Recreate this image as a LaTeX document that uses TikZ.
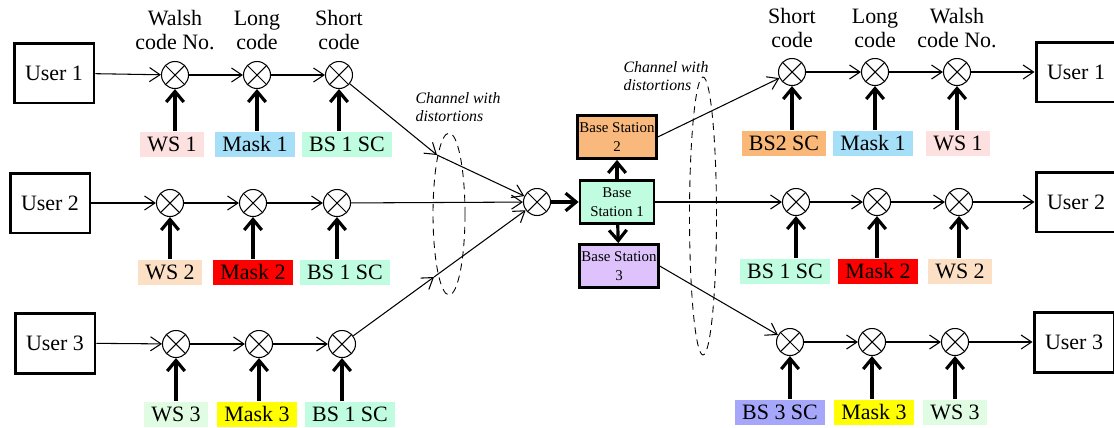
\documentclass[tikz,border=0pt]{standalone}
\usepackage{fontspec}
\setmainfont{Liberation Serif}
\usetikzlibrary{arrows.meta}

\definecolor{wspink}{HTML}{FDE0E0}
\definecolor{wspeach}{HTML}{FCE0C6}
\definecolor{wsgreen}{HTML}{E0FCE2}
\definecolor{maskblue}{HTML}{A6DFF8}
\definecolor{maskred}{HTML}{FF0000}
\definecolor{maskyellow}{HTML}{FFFF00}
\definecolor{scmint}{HTML}{BFFCE0}
\definecolor{scorange}{HTML}{FAB878}
\definecolor{scviolet}{HTML}{A6A6FA}
\definecolor{bsorange}{HTML}{F9B97C}
\definecolor{bslilac}{HTML}{DEC2FC}

\begin{document}
\begin{tikzpicture}[x=0.02cm,y=-0.02cm]
					\useasboundingbox (0,0) rectangle (1114,427);
					\tikzstyle{every node}=[font=\fontsize{12.5}{13.6}\selectfont];
					\tikzstyle{user}=[draw,line width=1.7pt,minimum width=1.6cm,minimum height=1.2cm];
					\tikzstyle{mix}=[draw,circle,line width=0.6pt,minimum size=0.54cm,inner sep=0pt,path picture={\draw[line width=0.6pt] (path picture bounding box.north west) -- (path picture bounding box.south east) (path picture bounding box.north east) -- (path picture bounding box.south west);}];
					\tikzstyle{code}=[minimum height=0.5cm,inner xsep=0.145cm,inner ysep=0pt];
					\tikzstyle{station}=[draw,line width=1.6pt,minimum width=1.48cm,minimum height=0.86cm,inner sep=1pt,align=center,font=\fontsize{8.5}{10.5}\selectfont];
					\tikzstyle{codename}=[align=center];
					\tikzstyle{chan}=[align=left,font=\fontsize{9}{10.5}\selectfont\itshape];
					\tikzstyle{sig}=[-{Straight Barb[length=6pt,width=8pt]},line width=0.6pt];
					\tikzstyle{key}=[-{Straight Barb[length=6pt,width=10pt]},line width=1.8pt];
					% senders
					\path (54,73) node[user] (u1) {User 1};
					\path (50,203) node[user] (u2) {User 2};
					\path (55,343) node[user] (u3) {User 3};
					\path (175,75) node[mix] (m11) {};
					\path (257,75) node[mix] (m12) {};
					\path (339,75) node[mix] (m13) {};
					\path (170,203) node[mix] (m21) {};
					\path (253,203) node[mix] (m22) {};
					\path (337,203) node[mix] (m23) {};
					\path (176,344) node[mix] (m31) {};
					\path (259,344) node[mix] (m32) {};
					\path (342,344) node[mix] (m33) {};
					\path (175,30) node[codename] (n11) {Walsh\\code No.};
					\path (257,30) node[codename] (n12) {Long\\code};
					\path (339,30) node[codename] (n13) {Short\\code};
					\path (172,144) node[code,fill=wspink] (c11) {WS 1};
					\path (255,144) node[code,fill=maskblue] (c12) {Mask 1};
					\path (347,144) node[code,fill=scmint] (c13) {BS 1 SC};
					\path (170,272) node[code,fill=wspeach] (c21) {WS 2};
					\path (253,272) node[code,fill=maskred] (c22) {Mask 2};
					\path (345,272) node[code,fill=scmint] (c23) {BS 1 SC};
					\path (176,414) node[code,fill=wsgreen] (c31) {WS 3};
					\path (257,414) node[code,fill=maskyellow] (c32) {Mask 3};
					\path (350,414) node[code,fill=scmint] (c33) {BS 1 SC};
					% channel and base stations
					\path (537,202) node[mix] (cm) {};
					\path (617,202) node[station,fill=scmint] (bs1) {Base\\Station 1};
					\path (617,137) node[station,fill=bsorange] (bs2) {Base Station\\2};
					\path (619,266) node[station,fill=bslilac] (bs3) {Base Station\\3};
					\coordinate (k1) at (437,155);
					\coordinate (k3) at (434,277);
					\draw[dash pattern=on 4pt off 3pt,line width=0.5pt] (449,214) ellipse [x radius=0.32cm,y radius=1.62cm];
					\draw[dash pattern=on 4pt off 3pt,line width=0.5pt] (703,216) ellipse [x radius=0.27cm,y radius=2.78cm];
					\path (458,107) node[chan] (t1) {Channel with\\distortions};
					\path (666,76) node[chan] (t2) {Channel with\\distortions};
					% receivers
					\path (792,72) node[mix] (r11) {};
					\path (875,72) node[mix] (r12) {};
					\path (957,72) node[mix] (r13) {};
					\path (796,202) node[mix] (r21) {};
					\path (877,202) node[mix] (r22) {};
					\path (959,202) node[mix] (r23) {};
					\path (790,342) node[mix] (r31) {};
					\path (872,342) node[mix] (r32) {};
					\path (955,342) node[mix] (r33) {};
					\path (792,28) node[codename] (p11) {Short\\code};
					\path (875,28) node[codename] (p12) {Long\\code};
					\path (957,28) node[codename] (p13) {Walsh\\code No.};
					\path (784,143) node[code,fill=scorange] (d11) {BS2 SC};
					\path (873,143) node[code,fill=maskblue] (d12) {Mask 1};
					\path (958,143) node[code,fill=wspink] (d13) {WS 1};
					\path (785,271) node[code,fill=scmint] (d21) {BS 1 SC};
					\path (878,271) node[code,fill=maskred] (d22) {Mask 2};
					\path (960,271) node[code,fill=wspeach] (d23) {WS 2};
					\path (780,412) node[code,fill=scviolet] (d31) {BS 3 SC};
					\path (874,412) node[code,fill=maskyellow] (d32) {Mask 3};
					\path (955,412) node[code,fill=wsgreen] (d33) {WS 3};
					\path (1076,72) node[user] (v1) {User 1};
					\path (1076,202) node[user] (v2) {User 2};
					\path (1074,342) node[user] (v3) {User 3};
					% signal paths
					\draw[sig] (u1) -- (m11);
					\draw[sig] (m11) -- (m12);
					\draw[sig] (m12) -- (m13);
					\draw[sig] (u2) -- (m21);
					\draw[sig] (m21) -- (m22);
					\draw[sig] (m22) -- (m23);
					\draw[sig] (u3) -- (m31);
					\draw[sig] (m31) -- (m32);
					\draw[sig] (m32) -- (m33);
					\draw[sig] (m13) -- (k1);
					\draw[sig] (k1) -- (cm);
					\draw[sig] (m23) -- (cm);
					\draw[sig] (m33) -- (k3);
					\draw[sig] (k3) -- (cm);
					\draw[key] (cm) -- (bs1);
					\draw[key] (bs1) -- (bs2);
					\draw[key] (bs1) -- (bs3);
					\draw[sig] (bs2.east) -- (r11);
					\draw[sig] (bs1) -- (r21);
					\draw[sig] (bs3.east) -- (r31);
					\draw[sig] (r11) -- (r12);
					\draw[sig] (r12) -- (r13);
					\draw[sig] (r13) -- (v1);
					\draw[sig] (r21) -- (r22);
					\draw[sig] (r22) -- (r23);
					\draw[sig] (r23) -- (v2);
					\draw[sig] (r31) -- (r32);
					\draw[sig] (r32) -- (r33);
					\draw[sig] (r33) -- (v3);
					% code inputs
					\draw[key] (c11.north -| m11) -- (m11);
					\draw[key] (c12.north -| m12) -- (m12);
					\draw[key] (c13.north -| m13) -- (m13);
					\draw[key] (c21.north -| m21) -- (m21);
					\draw[key] (c22.north -| m22) -- (m22);
					\draw[key] (c23.north -| m23) -- (m23);
					\draw[key] (c31.north -| m31) -- (m31);
					\draw[key] (c32.north -| m32) -- (m32);
					\draw[key] (c33.north -| m33) -- (m33);
					\draw[key] (d11.north -| r11) -- (r11);
					\draw[key] (d12.north -| r12) -- (r12);
					\draw[key] (d13.north -| r13) -- (r13);
					\draw[key] (d21.north -| r21) -- (r21);
					\draw[key] (d22.north -| r22) -- (r22);
					\draw[key] (d23.north -| r23) -- (r23);
					\draw[key] (d31.north -| r31) -- (r31);
					\draw[key] (d32.north -| r32) -- (r32);
					\draw[key] (d33.north -| r33) -- (r33);
					\end{tikzpicture}
\end{document}
